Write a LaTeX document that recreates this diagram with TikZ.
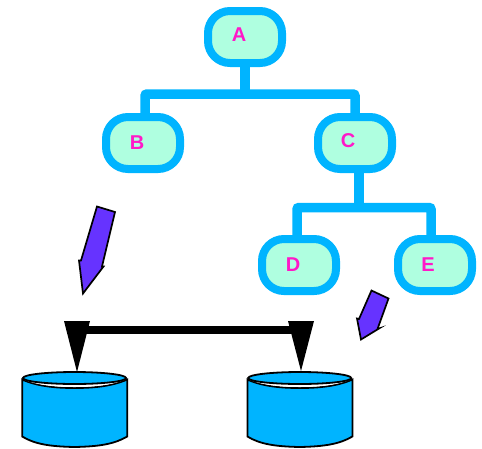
\documentclass[tikz,border=0pt]{standalone}
\usepackage{fontspec}
\setmainfont{Liberation Sans}
\definecolor{linkblue}{HTML}{00B4FF}
\definecolor{boxfill}{HTML}{AFFFE0}
\definecolor{labelpink}{HTML}{FF19C8}
\definecolor{arrowpurple}{HTML}{6633FF}
\tikzset{
  treebox/.style={draw=linkblue,fill=boxfill,line width=8pt,rounded corners=22pt,
    minimum width=74pt,minimum height=52pt,inner sep=0pt},
  boxlabel/.style={text=labelpink,font=\bfseries\fontsize{20}{20}\selectfont,inner sep=0pt},
  treelink/.style={draw=linkblue,line width=9.5pt,rounded corners=2pt},
  hint/.style={draw=black,fill=arrowpurple,line width=1.7pt,line join=miter},
  dbbody/.style={draw=black,fill=linkblue,line width=1.8pt},
  bus/.style={draw=black,line width=8pt},
  drop/.style={fill=black}
}
\newcommand{\dbshape}[1]{%
  \path[dbbody] ([shift={(-52.3,1.5)}]#1) .. controls ([shift={(-38,8)}]#1) and ([shift={(-20,10)}]#1) .. ([shift={(0,10)}]#1)
     .. controls ([shift={(20,10)}]#1) and ([shift={(38,8)}]#1) .. ([shift={(52.7,1.5)}]#1)
     -- ([shift={(52.7,58.5)}]#1) .. controls ([shift={(40,66)}]#1) and ([shift={(25,68.5)}]#1) .. ([shift={(0,69)}]#1)
     .. controls ([shift={(-25,68.5)}]#1) and ([shift={(-40,66)}]#1) .. ([shift={(-52.3,58.5)}]#1) -- cycle;
  \fill[white] ([shift={(-51,1.5)}]#1) .. controls ([shift={(-38,7)}]#1) and ([shift={(-20,9)}]#1) .. ([shift={(0,9)}]#1)
     .. controls ([shift={(20,9)}]#1) and ([shift={(38,7)}]#1) .. ([shift={(51,1.5)}]#1) -- cycle;
  \path[dbbody] (#1) ellipse [x radius=51.5,y radius=6];
}
\begin{document}
\begin{tikzpicture}[x=1pt,y=-1pt]
\useasboundingbox (0,0) rectangle (482,448);
% tree links
\coordinate (ja) at (245,94);
\coordinate (jc) at (359,207.5);
\coordinate (tb) at (145,130);
\coordinate (tc) at (355,130);
\coordinate (td) at (297,250);
\coordinate (te) at (431,250);
\coordinate (sa) at (245,50);
\coordinate (sc) at (359,160);
\path[treelink] (sa) -- (ja);
\path[treelink] (tb) |- (ja) -| (tc);
\path[treelink] (sc) -- (jc);
\path[treelink] (td) |- (jc) -| (te);
% boxes
\node[treebox,label={[boxlabel,name=la,xshift=-6pt,yshift=2pt]center:A}] (A) at (245,37) {};
\node[treebox,label={[boxlabel,name=lb,xshift=-6pt]center:B}] (B) at (143,143) {};
\node[treebox,label={[boxlabel,name=lc,xshift=-7pt,yshift=2pt]center:C}] (C) at (355,143) {};
\node[treebox,label={[boxlabel,name=ld,xshift=-6pt]center:D}] (D) at (299,265) {};
\node[treebox,label={[boxlabel,name=le,xshift=-7pt]center:E}] (E) at (435,265) {};
% purple arrows
\path[hint] (97,206.5) -- (115,212) -- (102,266.5) -- (103.5,266.5) -- (83,293.5) -- (79,260.5) -- (81,260.5) -- cycle;
\path[hint] (371.5,290.5) -- (388.5,298.5) -- (377.5,329) -- (379,328.5) -- (361,339.5) -- (357,318.5) -- (359,319) -- cycle;
% databases
\coordinate (db1) at (74.5,378);
\coordinate (db2) at (299.7,378);
\dbshape{db1}
\dbshape{db2}
% bus and drops
\coordinate (p1) at (77,330);
\coordinate (p2) at (301,330);
\path[bus] (p1) -- (p2);
\path[drop] (64,321) -- (90,321) -- (77,372) -- cycle;
\path[drop] (288,321) -- (314,321) -- (301,371) -- cycle;
\end{tikzpicture}
\end{document}
